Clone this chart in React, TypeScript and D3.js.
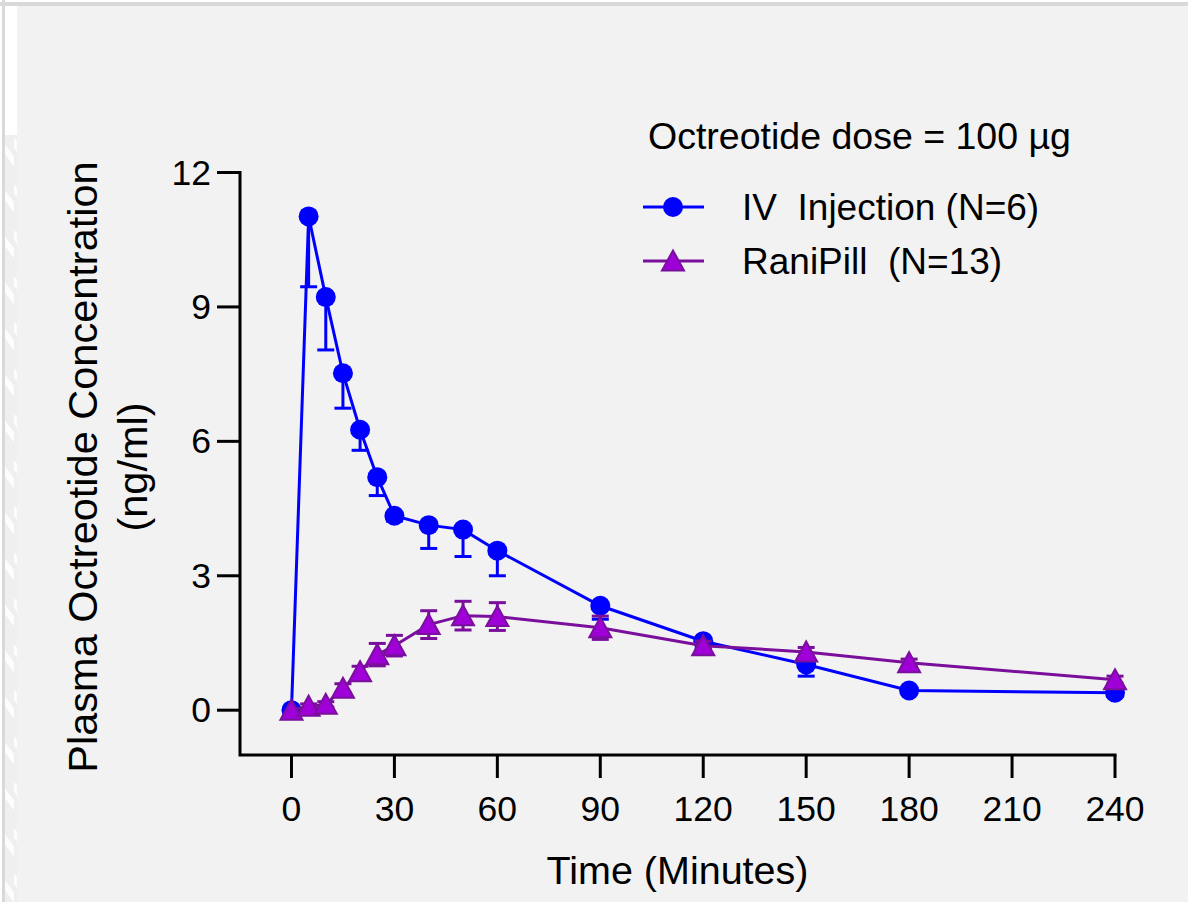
import React from "react";
import * as d3 from "d3";

const times = [0, 5, 10, 15, 20, 25, 30, 40, 50, 60, 90, 120, 150, 180, 240];
const ivMean = [0, 11.02, 9.22, 7.52, 6.26, 5.2, 4.34, 4.13, 4.03, 3.56, 2.33, 1.54, 1.02, 0.44, 0.39];
const ivSd = [0, 1.57, 1.18, 0.78, 0.46, 0.41, 0.12, 0.52, 0.6, 0.56, 0.3, 0.15, 0.26, 0.08, 0.08];
const raniMean = [0, 0.09, 0.13, 0.49, 0.86, 1.24, 1.44, 1.91, 2.11, 2.09, 1.84, 1.44, 1.3, 1.06, 0.68];
const raniSd = [0, 0.05, 0.06, 0.1, 0.12, 0.25, 0.23, 0.31, 0.32, 0.31, 0.26, 0.1, 0.1, 0.08, 0.08];
const xTicks = [0, 30, 60, 90, 120, 150, 180, 210, 240];
const yTicks = [0, 3, 6, 9, 12];
const legendTitle = "Octreotide dose = 100 µg";
const seriesNames = ["IV  Injection (N=6)", "RaniPill  (N=13)"];
const xTitle = "Time (Minutes)";
const yTitle = ["Plasma Octreotide Concentration", "(ng/ml)"];

const FONT = "'Liberation Sans', Arial, Helvetica, sans-serif";
const BLUE = "#0000ff";
const PURPLE = "#7a0f9c";
const PURPLE_FILL = "#a000d8";

export default function App() {
  const x = d3.scaleLinear().domain([-15, 240]).range([240, 1115]);
  const y = d3.scaleLinear().domain([-1, 12]).range([755, 172.5]);

  const ivData = times.map((t, i) => ({ t, m: ivMean[i], s: ivSd[i] }));
  const raniData = times.map((t, i) => ({ t, m: raniMean[i], s: raniSd[i] }));

  const line = d3
    .line<{ t: number; m: number }>()
    .x((d) => x(d.t))
    .y((d) => y(d.m));

  const capW = 8.5;
  const tri = (cx: number, cy: number) =>
    `M${cx},${cy - 10.5} L${cx + 11},${cy + 9.5} L${cx - 11},${cy + 9.5} Z`;

  const x0 = x.range()[0];
  const x1 = x.range()[1];
  const yBottom = y.range()[0];
  const yTop = y.range()[1];

  return (
    <svg
      width={1188}
      height={902}
      style={{ position: "absolute", left: 0, top: 0, display: "block" }}
      fontFamily={FONT}
    >
      <defs>
        <pattern id="stripes" width="14" height="46" patternUnits="userSpaceOnUse">
          <rect width="14" height="46" fill="#efefef" />
          <path d="M-2,2 L16,26" stroke="#ffffff" strokeWidth="6" opacity="0.9" />
        </pattern>
      </defs>
      <rect x={0} y={0} width={1188} height={902} fill="#ffffff" />
      <rect x={17} y={6} width={1171} height={896} fill="#f2f2f2" />
      <rect x={5} y={135} width={12} height={767} fill="url(#stripes)" />
      <line x1={0} y1={4} x2={1188} y2={4} stroke="#d9d9d9" strokeWidth={4} />
      <line x1={3.5} y1={0} x2={3.5} y2={902} stroke="#d9d9d9" strokeWidth={3} />

      {/* Axes */}
      <g stroke="#000" strokeWidth={3} fill="none">
        <path d={`M${x0},${yTop} V${yBottom} H${x1}`} strokeLinejoin="miter" strokeLinecap="square" />
        {yTicks.map((v) => (
          <line key={"yt" + v} x1={217} x2={x0} y1={y(v)} y2={y(v)} />
        ))}
        {xTicks.map((v) => (
          <line key={"xt" + v} x1={x(v)} x2={x(v)} y1={yBottom} y2={778} />
        ))}
      </g>
      <g fontSize={35.5} fill="#000">
        {yTicks.map((v) => (
          <text key={"yl" + v} x={211} y={y(v)} textAnchor="end" dominantBaseline="central">
            {v}
          </text>
        ))}
        {xTicks.map((v) => (
          <text key={"xl" + v} x={x(v)} y={821} textAnchor="middle">
            {v}
          </text>
        ))}
      </g>
      <text x={(x0 + x1) / 2} y={884} fontSize={39.5} textAnchor="middle" fill="#000">
        {xTitle}
      </text>
      <g transform="translate(97,467) rotate(-90)" fill="#000" fontSize={41.5}>
        <text x={0} y={0} textAnchor="middle">
          {yTitle[0]}
        </text>
        <text x={0} y={50} textAnchor="middle">
          {yTitle[1]}
        </text>
      </g>

      {/* IV series */}
      <g stroke={BLUE} strokeWidth={3} fill="none">
        {ivData
          .filter((d) => d.s > 0)
          .map((d) => (
            <g key={"ive" + d.t}>
              <line x1={x(d.t)} x2={x(d.t)} y1={y(d.m)} y2={y(d.m - d.s)} />
              <line x1={x(d.t) - capW} x2={x(d.t) + capW} y1={y(d.m - d.s)} y2={y(d.m - d.s)} />
            </g>
          ))}
      </g>
      <path d={line(ivData) || ""} stroke={BLUE} strokeWidth={3} fill="none" />
      {ivData.map((d) => (
        <circle key={"ivc" + d.t} cx={x(d.t)} cy={y(d.m)} r={10} fill={BLUE} />
      ))}

      {/* RaniPill series */}
      <g stroke={PURPLE} strokeWidth={3} fill="none">
        {raniData
          .filter((d) => d.s > 0)
          .map((d) => (
            <g key={"re" + d.t}>
              <line x1={x(d.t)} x2={x(d.t)} y1={y(d.m + d.s)} y2={y(d.m - d.s)} />
              <line x1={x(d.t) - capW} x2={x(d.t) + capW} y1={y(d.m + d.s)} y2={y(d.m + d.s)} />
              <line x1={x(d.t) - capW} x2={x(d.t) + capW} y1={y(d.m - d.s)} y2={y(d.m - d.s)} />
            </g>
          ))}
      </g>
      <path d={line(raniData) || ""} stroke={PURPLE} strokeWidth={3} fill="none" />
      {raniData.map((d) => (
        <path
          key={"rt" + d.t}
          d={tri(x(d.t), y(d.m))}
          fill={PURPLE_FILL}
          stroke={PURPLE}
          strokeWidth={2}
          strokeLinejoin="miter"
        />
      ))}

      {/* Legend */}
      <text x={648} y={149} fontSize={37.5} fill="#000">
        {legendTitle}
      </text>
      <g>
        <line x1={643} x2={704} y1={207} y2={207} stroke={BLUE} strokeWidth={3} />
        <circle cx={673} cy={207} r={10} fill={BLUE} />
        <text x={742} y={220} fontSize={37} fill="#000" style={{ whiteSpace: "pre" }}>
          {seriesNames[0]}
        </text>
        <line x1={643} x2={704} y1={261} y2={261} stroke={PURPLE} strokeWidth={3} />
        <path d={tri(673, 261)} fill={PURPLE_FILL} stroke={PURPLE} strokeWidth={2} />
        <text x={742} y={274} fontSize={37} fill="#000" style={{ whiteSpace: "pre" }}>
          {seriesNames[1]}
        </text>
      </g>
    </svg>
  );
}
